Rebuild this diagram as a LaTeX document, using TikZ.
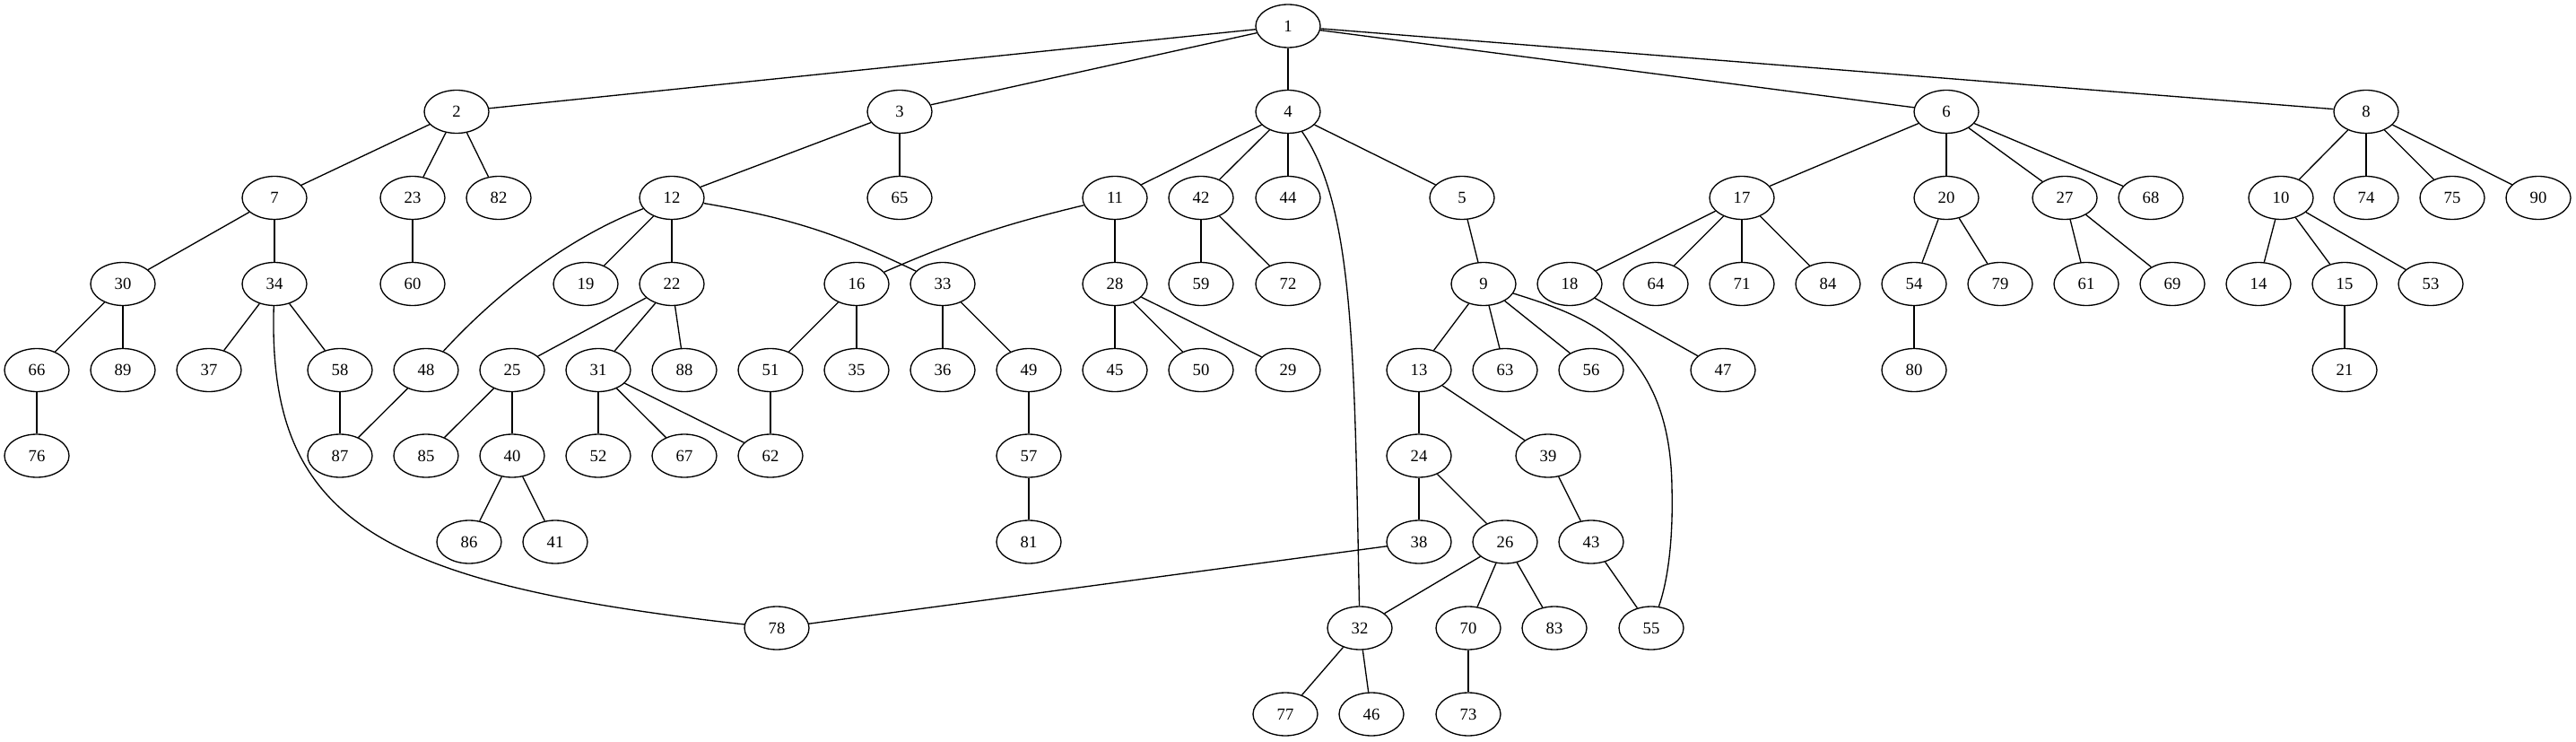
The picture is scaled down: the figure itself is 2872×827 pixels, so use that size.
\documentclass[tikz,border=0pt]{standalone}
\usepackage{fontspec}
\setmainfont{Liberation Serif}
\usetikzlibrary{shapes.geometric}

\begin{document}
\begin{tikzpicture}[x=0.75pt, y=-0.75pt, line width=1pt, main node/.style={ellipse,draw,minimum width=54pt,minimum height=36pt,inner sep=0pt,font=\fontsize{14}{16}\selectfont}]
\useasboundingbox (0,0) rectangle (2872,827);
\begin{scope}[every node/.style={main node}]
% rank 0 and 1
\node (n1) at (1436,29) {1};
\node (n2) at (509,124.5) {2};
\node (n3) at (1003,124.5) {3};
\node (n4) at (1436,124.5) {4};
\node (n6) at (2170,124.5) {6};
\node (n8) at (2638,124.5) {8};
% rank 2
\node (n7) at (306,220.5) {7};
\node (n23) at (460,220.5) {23};
\node (n82) at (556,220.5) {82};
\node (n12) at (749,220.5) {12};
\node (n65) at (1003,220.5) {65};
\node (n11) at (1243,220.5) {11};
\node (n42) at (1339,220.5) {42};
\node (n44) at (1436,220.5) {44};
\node (n5) at (1630,220.5) {5};
\node (n17) at (1942,220.5) {17};
\node (n20) at (2170,220.5) {20};
\node (n27) at (2302,220.5) {27};
\node (n68) at (2398,220.5) {68};
\node (n10) at (2543,220.5) {10};
\node (n74) at (2638,220.5) {74};
\node (n75) at (2734,220.5) {75};
\node (n90) at (2830,220.5) {90};
% rank 3
\node (n30) at (137,316.5) {30};
\node (n34) at (306,316.5) {34};
\node (n60) at (460,316.5) {60};
\node (n19) at (653,316.5) {19};
\node (n22) at (749,316.5) {22};
\node (n16) at (955,316.5) {16};
\node (n33) at (1051,316.5) {33};
\node (n28) at (1243,316.5) {28};
\node (n59) at (1339,316.5) {59};
\node (n72) at (1436,316.5) {72};
\node (n9) at (1654,316.5) {9};
\node (n18) at (1750,316.5) {18};
\node (n64) at (1846,316.5) {64};
\node (n71) at (1942,316.5) {71};
\node (n84) at (2038,316.5) {84};
\node (n54) at (2134,316.5) {54};
\node (n79) at (2230,316.5) {79};
\node (n61) at (2326,316.5) {61};
\node (n69) at (2422,316.5) {69};
\node (n14) at (2518,316.5) {14};
\node (n15) at (2614,316.5) {15};
\node (n53) at (2710,316.5) {53};
% rank 4
\node (n66) at (41,412.5) {66};
\node (n89) at (137,412.5) {89};
\node (n37) at (233,412.5) {37};
\node (n58) at (379,412.5) {58};
\node (n48) at (475,412.5) {48};
\node (n25) at (571,412.5) {25};
\node (n31) at (667,412.5) {31};
\node (n88) at (763,412.5) {88};
\node (n51) at (859,412.5) {51};
\node (n35) at (955,412.5) {35};
\node (n36) at (1051,412.5) {36};
\node (n49) at (1147,412.5) {49};
\node (n45) at (1243,412.5) {45};
\node (n50) at (1339,412.5) {50};
\node (n29) at (1436,412.5) {29};
\node (n13) at (1582,412.5) {13};
\node (n63) at (1678,412.5) {63};
\node (n56) at (1774,412.5) {56};
\node (n47) at (1921,412.5) {47};
\node (n80) at (2134,412.5) {80};
\node (n21) at (2614,412.5) {21};
% rank 5
\node (n76) at (41,508) {76};
\node (n87) at (379,508) {87};
\node (n85) at (475,508) {85};
\node (n40) at (571,508) {40};
\node (n52) at (667,508) {52};
\node (n67) at (763,508) {67};
\node (n62) at (859,508) {62};
\node (n57) at (1147,508) {57};
\node (n24) at (1582,508) {24};
\node (n39) at (1726,508) {39};
% rank 6
\node (n86) at (523,604) {86};
\node (n41) at (619,604) {41};
\node (n81) at (1147,604) {81};
\node (n38) at (1582,604) {38};
\node (n26) at (1678,604) {26};
\node (n43) at (1774,604) {43};
% rank 7 and 8
\node (n78) at (866,700) {78};
\node (n32) at (1516,700) {32};
\node (n70) at (1637,700) {70};
\node (n83) at (1733,700) {83};
\node (n55) at (1841,700) {55};
\node (n77) at (1433,796) {77};
\node (n46) at (1529,796) {46};
\node (n73) at (1637,796) {73};
\end{scope}
\draw (n1) edge (n2) edge (n3) edge (n4) edge (n6) edge (n8);
\draw (n2) edge (n7) edge (n23) edge (n82);
\draw (n3) edge (n12) edge (n65);
\draw (n4) edge (n11) edge (n42) edge (n44) edge (n5);
\draw (n6) edge (n17) edge (n20) edge (n27) edge (n68);
\draw (n8) edge (n10) edge (n74) edge (n75) edge (n90);
\draw (n7) edge (n30) edge (n34);
\draw (n23) edge (n60);
\draw (n12) edge (n19) edge (n22) edge [bend left=8] (n33);
\draw (n11) edge [bend right=5] (n16) edge (n28);
\draw (n42) edge (n59) edge (n72);
\draw (n5) edge (n9);
\draw (n17) edge (n18) edge (n64) edge (n71) edge (n84);
\draw (n20) edge (n54) edge (n79);
\draw (n27) edge (n61) edge (n69);
\draw (n10) edge (n14) edge (n15) edge (n53);
\draw (n30) edge (n66) edge (n89);
\draw (n34) edge (n37) edge (n58);
\draw (n22) edge (n25) edge (n31) edge (n88);
\draw (n16) edge (n51) edge (n35);
\draw (n33) edge (n36) edge (n49);
\draw (n28) edge (n45) edge (n50) edge (n29);
\draw (n9) edge (n13) edge (n63) edge (n56);
\draw (n18) edge (n47);
\draw (n54) edge (n80);
\draw (n15) edge (n21);
\draw (n66) edge (n76);
\draw (n58) edge (n87);
\draw (n48) edge (n87);
\draw (n25) edge (n85) edge (n40);
\draw (n31) edge (n52) edge (n67) edge (n62);
\draw (n51) edge (n62);
\draw (n49) edge (n57);
\draw (n13) edge (n24) edge (n39);
\draw (n40) edge (n86) edge (n41);
\draw (n57) edge (n81);
\draw (n24) edge (n38) edge (n26);
\draw (n39) edge (n43);
\draw (n38) edge (n78);
\draw (n26) edge (n32) edge (n70) edge (n83);
\draw (n43) edge (n55);
\draw (n32) edge (n77) edge (n46);
\draw (n70) edge (n73);
% curved ones
\draw (n12) .. controls (640,262) and (560,320) .. (n48);
\draw (n34) .. controls (298,580) and (420,650) .. (n78);
\draw (n4) .. controls (1510,230) and (1510,400) .. (n32);
\draw (n9) .. controls (1760,350) and (1862,380) .. (1864,543) .. controls (1866,620) and (1855,660) .. (n55);
\end{tikzpicture}
\end{document}
